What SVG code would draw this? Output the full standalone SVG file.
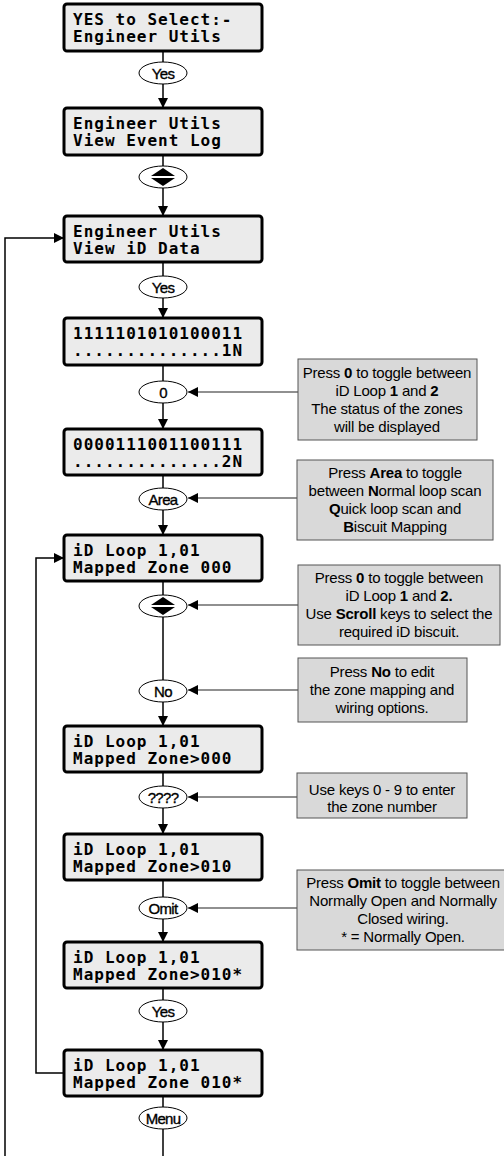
<svg xmlns="http://www.w3.org/2000/svg" width="504" height="1156" viewBox="0 0 504 1156">
<style>
.lcd{fill:#ebebeb;stroke:#000;stroke-width:3}
.lt{font-family:"DejaVu Sans Mono",monospace;font-weight:bold;font-size:16px;letter-spacing:1px;fill:#000}
.el{fill:#fff;stroke:#000;stroke-width:1}
.et{font-family:"Liberation Sans",Arial,sans-serif;font-size:15px;letter-spacing:-0.7px;fill:#000;stroke:#000;stroke-width:0.35;text-anchor:middle}
.note{fill:#d9d9d9;stroke:#555;stroke-width:1}
.nt{font-family:"Liberation Sans",Arial,sans-serif;font-size:15px;letter-spacing:-0.2px;fill:#000;text-anchor:middle}
.b{font-weight:bold}
.ln{fill:none;stroke:#000;stroke-width:1.5}
.nl{fill:none;stroke:#222;stroke-width:1.2}
</style>
<defs>
<marker id="ah" viewBox="0 0 10 10" refX="10" refY="5" markerWidth="10" markerHeight="10" markerUnits="userSpaceOnUse" orient="auto">
<path d="M0,0 L10,5 L0,10 z" fill="#000"/>
</marker>
</defs>
<rect width="504" height="1156" fill="#fff"/>
<g id="connectors">
<path class="ln" d="M163,51 V62"/>
<path class="ln" d="M163,84 V108" marker-end="url(#ah)"/>
<path class="ln" d="M163,155 V166"/>
<path class="ln" d="M163,188 V216" marker-end="url(#ah)"/>
<path class="ln" d="M163,262 V276"/>
<path class="ln" d="M163,298 V318" marker-end="url(#ah)"/>
<path class="ln" d="M163,365 V381"/>
<path class="ln" d="M163,403 V429" marker-end="url(#ah)"/>
<path class="ln" d="M163,475 V488"/>
<path class="ln" d="M163,510 V535" marker-end="url(#ah)"/>
<path class="ln" d="M163,581 V595"/>
<path class="ln" d="M163,617 V680"/>
<path class="ln" d="M163,702 V726" marker-end="url(#ah)"/>
<path class="ln" d="M163,772 V786"/>
<path class="ln" d="M163,808 V834" marker-end="url(#ah)"/>
<path class="ln" d="M163,880 V897"/>
<path class="ln" d="M163,919 V942" marker-end="url(#ah)"/>
<path class="ln" d="M163,988 V1000"/>
<path class="ln" d="M163,1022 V1050" marker-end="url(#ah)"/>
<path class="ln" d="M163,1096 V1107"/>
<path class="ln" d="M163,1129 V1156"/>
<path class="ln" d="M5,1156 V238 H64" marker-end="url(#ah)"/>
<path class="ln" d="M64,1073 H36 V558 H64" marker-end="url(#ah)"/>
<path class="nl" d="M298,392 H188" marker-end="url(#ah)"/>
<path class="nl" d="M297,498 H188" marker-end="url(#ah)"/>
<path class="nl" d="M298,605 H188" marker-end="url(#ah)"/>
<path class="nl" d="M298,690 H188" marker-end="url(#ah)"/>
<path class="nl" d="M297,797 H188" marker-end="url(#ah)"/>
<path class="nl" d="M297,908 H188" marker-end="url(#ah)"/>
</g>
<g id="lcd1"><rect class="lcd" x="64" y="4" width="198" height="47" rx="3"/><text class="lt" x="73" y="25">YES to Select:-</text><text class="lt" x="73" y="42">Engineer Utils</text></g>
<g id="lcd2"><rect class="lcd" x="64" y="108" width="198" height="47" rx="3"/><text class="lt" x="73" y="129">Engineer Utils</text><text class="lt" x="73" y="146">View Event Log</text></g>
<g id="lcd3"><rect class="lcd" x="64" y="216" width="198" height="46" rx="3"/><text class="lt" x="73" y="237">Engineer Utils</text><text class="lt" x="73" y="254">View iD Data</text></g>
<g id="lcd4"><rect class="lcd" x="64" y="318" width="198" height="47" rx="3"/><text class="lt" x="73" y="339">1111101010100011</text><text class="lt" x="73" y="356">..............1N</text></g>
<g id="lcd5"><rect class="lcd" x="64" y="429" width="198" height="46" rx="3"/><text class="lt" x="73" y="450">0000111001100111</text><text class="lt" x="73" y="467">..............2N</text></g>
<g id="lcd6"><rect class="lcd" x="64" y="535" width="198" height="46" rx="3"/><text class="lt" x="73" y="556">iD Loop 1,01</text><text class="lt" x="73" y="573">Mapped Zone 000</text></g>
<g id="lcd7"><rect class="lcd" x="64" y="726" width="198" height="46" rx="3"/><text class="lt" x="73" y="747">iD Loop 1,01</text><text class="lt" x="73" y="764">Mapped Zone&gt;000</text></g>
<g id="lcd8"><rect class="lcd" x="64" y="834" width="198" height="46" rx="3"/><text class="lt" x="73" y="855">iD Loop 1,01</text><text class="lt" x="73" y="872">Mapped Zone&gt;010</text></g>
<g id="lcd9"><rect class="lcd" x="64" y="942" width="198" height="46" rx="3"/><text class="lt" x="73" y="963">iD Loop 1,01</text><text class="lt" x="73" y="980">Mapped Zone&gt;010*</text></g>
<g id="lcd10"><rect class="lcd" x="64" y="1050" width="198" height="46" rx="3"/><text class="lt" x="73" y="1071">iD Loop 1,01</text><text class="lt" x="73" y="1088">Mapped Zone 010*</text></g>
<g id="key-yes1"><ellipse class="el" cx="163" cy="73" rx="24" ry="11"/><text class="et" x="163" y="78.5">Yes</text></g>
<g id="key-scroll1"><ellipse class="el" cx="163" cy="177" rx="24" ry="11"/><path d="M151,176 H175 L163,168 z M151,178 H175 L163,186 z" fill="#000"/></g>
<g id="key-yes2"><ellipse class="el" cx="163" cy="287" rx="24" ry="11"/><text class="et" x="163" y="292.5">Yes</text></g>
<g id="key-0"><ellipse class="el" cx="163" cy="392" rx="24" ry="11"/><text class="et" x="163" y="397.5">0</text></g>
<g id="key-area"><ellipse class="el" cx="163" cy="499" rx="24" ry="11"/><text class="et" x="163" y="504.5">Area</text></g>
<g id="key-scroll2"><ellipse class="el" cx="163" cy="606" rx="24" ry="11"/><path d="M151,605 H175 L163,597 z M151,607 H175 L163,615 z" fill="#000"/></g>
<g id="key-no"><ellipse class="el" cx="163" cy="691" rx="24" ry="11"/><text class="et" x="163" y="696.5">No</text></g>
<g id="key-digits"><ellipse class="el" cx="163" cy="797" rx="24" ry="11"/><text class="et" x="163" y="802.5">????</text></g>
<g id="key-omit"><ellipse class="el" cx="163" cy="908" rx="24" ry="11"/><text class="et" x="163" y="913.5">Omit</text></g>
<g id="key-yes3"><ellipse class="el" cx="163" cy="1011" rx="24" ry="11"/><text class="et" x="163" y="1016.5">Yes</text></g>
<g id="key-menu"><ellipse class="el" cx="163" cy="1118" rx="24" ry="11"/><text class="et" x="163" y="1123.5">Menu</text></g>
<g id="note1"><rect class="note" x="298" y="359" width="179" height="81"/>
<text class="nt" x="387" y="378">Press <tspan class="b">0</tspan> to toggle between</text>
<text class="nt" x="387" y="396">iD Loop <tspan class="b">1</tspan> and <tspan class="b">2</tspan></text>
<text class="nt" x="387" y="414">The status of the zones</text>
<text class="nt" x="387" y="432">will be displayed</text></g>
<g id="note2"><rect class="note" x="297" y="460" width="196" height="80"/>
<text class="nt" x="395" y="478">Press <tspan class="b">Area</tspan> to toggle</text>
<text class="nt" x="395" y="496">between <tspan class="b">N</tspan>ormal loop scan</text>
<text class="nt" x="395" y="514"><tspan class="b">Q</tspan>uick loop scan and</text>
<text class="nt" x="395" y="532"><tspan class="b">B</tspan>iscuit Mapping</text></g>
<g id="note3"><rect class="note" x="298" y="565" width="202" height="80"/>
<text class="nt" x="399" y="583">Press <tspan class="b">0</tspan> to toggle between</text>
<text class="nt" x="399" y="601">iD Loop <tspan class="b">1</tspan> and <tspan class="b">2.</tspan></text>
<text class="nt" x="399" y="619">Use <tspan class="b">Scroll</tspan> keys to select the</text>
<text class="nt" x="399" y="637">required iD biscuit.</text></g>
<g id="note4"><rect class="note" x="298" y="658" width="169" height="64"/>
<text class="nt" x="382" y="677">Press <tspan class="b">No</tspan> to edit</text>
<text class="nt" x="382" y="695">the zone mapping and</text>
<text class="nt" x="382" y="713">wiring options.</text></g>
<g id="note5"><rect class="note" x="297" y="773" width="170" height="45"/>
<text class="nt" x="382" y="795">Use keys 0 - 9 to enter</text>
<text class="nt" x="382" y="812">the zone number</text></g>
<g id="note6"><rect class="note" x="297" y="870" width="214" height="80"/>
<text class="nt" x="403" y="888">Press <tspan class="b">Omit</tspan> to toggle between</text>
<text class="nt" x="403" y="906">Normally Open and Normally</text>
<text class="nt" x="403" y="924">Closed wiring.</text>
<text class="nt" x="403" y="942">* = Normally Open.</text></g>
</svg>
